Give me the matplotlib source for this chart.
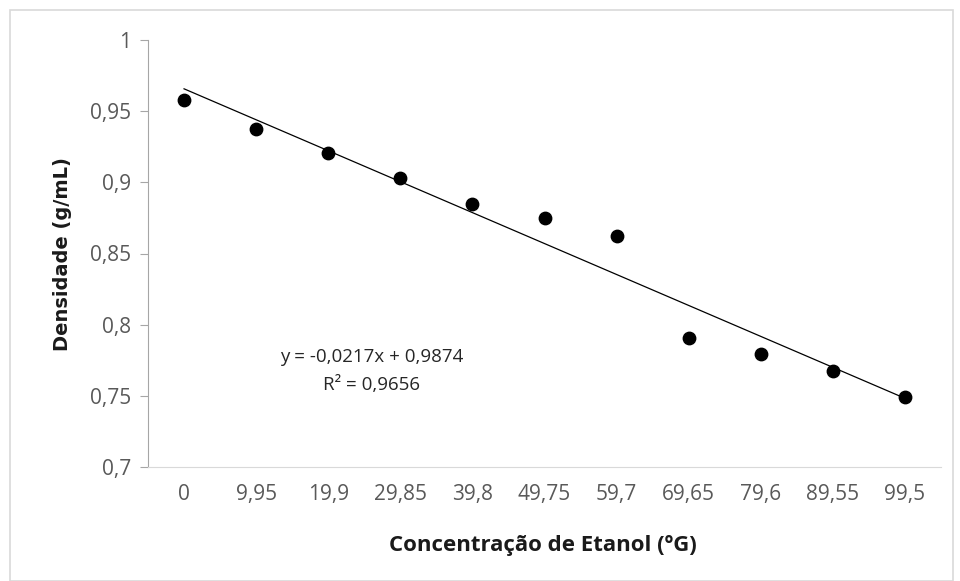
import matplotlib.pyplot as plt
import numpy as np
from matplotlib.patches import Rectangle

# categorias do eixo x (concentração de etanol, ºG)
categorias = ["0", "9,95", "19,9", "29,85", "39,8", "49,75", "59,7",
              "69,65", "79,6", "89,55", "99,5"]
densidade = [0.9577, 0.9375, 0.9204, 0.9028, 0.8846, 0.8748, 0.8623,
             0.7905, 0.7796, 0.7674, 0.7493]
yticks = [0.7, 0.75, 0.8, 0.85, 0.9, 0.95, 1.0]
ytick_labels = ["0,7", "0,75", "0,8", "0,85", "0,9", "0,95", "1"]

plt.rcParams['font.family'] = ['Open Sans', 'DejaVu Sans']

x = np.arange(1, len(categorias) + 1)
y = np.array(densidade)

fig = plt.figure(figsize=(9.6, 5.81), dpi=100)
ax = fig.add_axes([148/960, 1 - 467/581, (941-148)/960, (467-40)/581])

# borda externa
fig.patches.append(Rectangle((10/960, 0.0), 943/960, 1 - 10/581,
                             transform=fig.transFigure, fill=False,
                             edgecolor="#d9d9d9", linewidth=1.2))

ax.scatter(x, y, s=80, color="black", zorder=3)

# linha de tendência linear
m, c = np.polyfit(x, y, 1)
ax.plot(x, m*x + c, color="black", linewidth=0.9, zorder=2)

ax.text(3.6, 0.777, "y = -0,0217x + 0,9874", ha="center", va="center",
        fontsize=13.5, color="#262626")
ax.text(3.6, 0.7575, "R² = 0,9656", ha="center", va="center",
        fontsize=13.5, color="#262626")

ax.set_xlim(0.5, len(categorias) + 0.5)
ax.set_ylim(0.7, 1.0)
ax.set_xticks(x)
ax.set_xticklabels(categorias)
ax.set_yticks(yticks)
ax.set_yticklabels(ytick_labels)

for s in ["top", "right"]:
    ax.spines[s].set_visible(False)
ax.spines["left"].set_color("#a6a6a6")
ax.spines["bottom"].set_color("#d9d9d9")
ax.tick_params(axis="x", length=0, pad=12, labelsize=15, labelcolor="#595959")
ax.tick_params(axis="y", length=6, color="#a6a6a6", pad=6, labelsize=15,
               labelcolor="#595959")

fig.text(62/960, 1 - 254/581, "Densidade (g/mL)", rotation=90, ha="center",
         va="center", fontsize=14, fontweight="bold", color="#1a1a1a",
         family=["DejaVu Sans"])
fig.text(543/960, 1 - 545/581, "Concentração de Etanol (ºG)", ha="center",
         va="center", fontsize=16, fontweight="bold", color="#1a1a1a")

fig.savefig("out.png", dpi=100)
